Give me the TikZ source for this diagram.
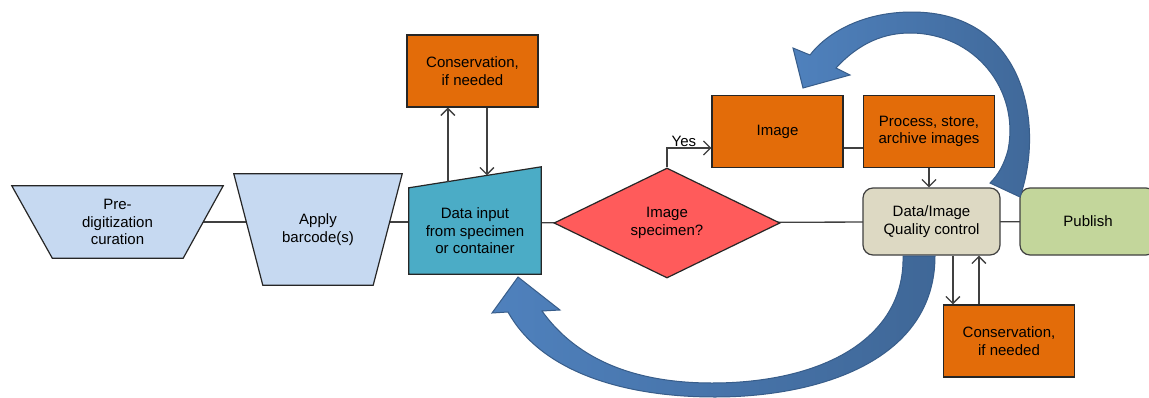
\documentclass[tikz,border=0pt]{standalone}
\usepackage{fontspec}
\setmainfont{Liberation Sans}
\usetikzlibrary{arrows.meta,calc,backgrounds,shapes.geometric}

\definecolor{paleblue}{RGB}{198,217,241}
\definecolor{aqua}{RGB}{75,172,198}
\definecolor{orangebox}{RGB}{227,108,9}
\definecolor{redbox}{RGB}{255,91,91}
\definecolor{tanbox}{RGB}{221,217,195}
\definecolor{greenbox}{RGB}{195,214,155}
\definecolor{bigblue}{RGB}{79,129,189}
\definecolor{bigblueline}{RGB}{56,93,138}

\tikzset{
  every node/.style={font=\fontsize{15pt}{17.5pt}\selectfont, align=center},
  box/.style={rectangle, draw=black!85, line width=1.2pt, fill=orangebox, minimum width=131pt, minimum height=72pt, inner sep=0pt},
  plain/.style={rectangle, inner sep=0pt},
  outline/.style={draw=black!85, line width=1.2pt},
  rbox/.style={rectangle, rounded corners=10pt, draw=black!75, line width=1.2pt, minimum width=137pt, minimum height=67pt, inner sep=0pt},
  conn/.style={draw=black!75, line width=1.3pt},
  arr/.style={conn, -{Straight Barb[length=7pt,width=14pt]}},
  bluearc/.style={draw=bigblueline, line width=1pt, left color=bigblue, right color=bigblue!80!black}
}

\begin{document}
\begin{tikzpicture}[x=1pt, y=-1pt]
    \useasboundingbox (0,0) rectangle (1149,397);

    \node[plain, minimum width=211pt, minimum height=72pt] (pre) at (117.5,222) {Pre-\\digitization\\curation};
    \node[plain, minimum width=168pt, minimum height=111pt] (apply) at (318,229.5) {Apply\\barcode(s)};
    \node[plain, minimum width=132pt, minimum height=86pt] (datain) at (475,231) {Data input\\from specimen\\or container};
    \node[box] (cons1) at (472.5,71) {Conservation,\\if needed};
    \node[diamond, aspect=2, outline, fill=redbox, minimum width=226pt, minimum height=110pt, inner sep=0pt] (diam) at (667,223) {Image\\specimen?};
    \node[box] (image) at (777.5,131.5) {Image};
    \node[box] (process) at (929,131.5) {Process, store,\\archive images};
    \node[rbox, fill=tanbox] (qc) at (931.5,221.5) {Data/Image\\Quality control};
    \node[rbox, fill=greenbox, minimum width=136pt] (publish) at (1088,221.5) {Publish};
    \node[box] (cons2) at (1009,341) {Conservation,\\if needed};

    % main line runs under the shapes
    \begin{scope}[on background layer]
        \fill[white] (0,0) rectangle (1149,397);
        \draw[conn] (pre.center) -- (datain.center |- pre.center);
        \draw[conn] (datain.center |- diam.center) -- node[pos=0.3, above=16pt]{No} (publish.center);
        \filldraw[outline, fill=paleblue] (pre.north west) -- (pre.north east) -- ([xshift=-40pt]pre.south east) -- ([xshift=40.5pt]pre.south west) -- cycle;
        \filldraw[outline, fill=paleblue] (apply.north west) -- (apply.north east) -- ([xshift=-29pt]apply.south east) -- ([xshift=29pt]apply.south west) -- cycle;
        \filldraw[outline, fill=aqua] (datain.south west) -- (datain.north west) -- ([yshift=21pt]datain.north east) -- (datain.south east) -- cycle;
    \end{scope}

    \coordinate (slant) at ([yshift=21pt]datain.north east);
    \coordinate (up1) at ($(datain.north west)!0.295!(slant)$);
    \coordinate (dn1) at ($(datain.north west)!0.59!(slant)$);
    \draw[arr] (up1) -- (up1 |- cons1.south);
    \draw[arr] (dn1 |- cons1.south) -- (dn1);

    \draw[arr] (diam.north) |- node[pos=0.69, above, inner sep=1pt]{Yes} ([yshift=-16.5pt]image.west);
    \draw[conn] ([yshift=-16.5pt]image.east) -- ([yshift=-16.5pt]process.west);
    \draw[arr] (process.south) -- (process.south |- qc.north);

    \coordinate (dn2) at ([xshift=10pt]cons2.north west);
    \coordinate (up2) at ([xshift=36pt]cons2.north west);
    \draw[arr] (dn2 |- qc.south) -- (dn2);
    \draw[arr] (up2) -- (up2 |- qc.south);

    % curved block arrows
    \draw[bluearc] (1020,197) .. controls (1045,125) and (1025,12) .. (912,12)
        .. controls (860,12) and (825,35) .. (810,55)
        -- (793,48) -- (803,88) -- (850,75) -- (836,68)
        .. controls (860,42) and (885,33) .. (910,33)
        .. controls (975,33) and (1020,90) .. (1008,150)
        .. controls (1004,165) and (998,175) .. (990,183) -- cycle;
    \draw[bluearc] (935,256) .. controls (935,360) and (820,397) .. (715,397)
        .. controls (620,397) and (540,370) .. (508,312)
        -- (492,313) -- (518,277) -- (560,310) -- (542,311)
        .. controls (570,350) and (620,383) .. (712,383)
        .. controls (820,383) and (905,340) .. (903,256) -- cycle;
\end{tikzpicture}
\end{document}
